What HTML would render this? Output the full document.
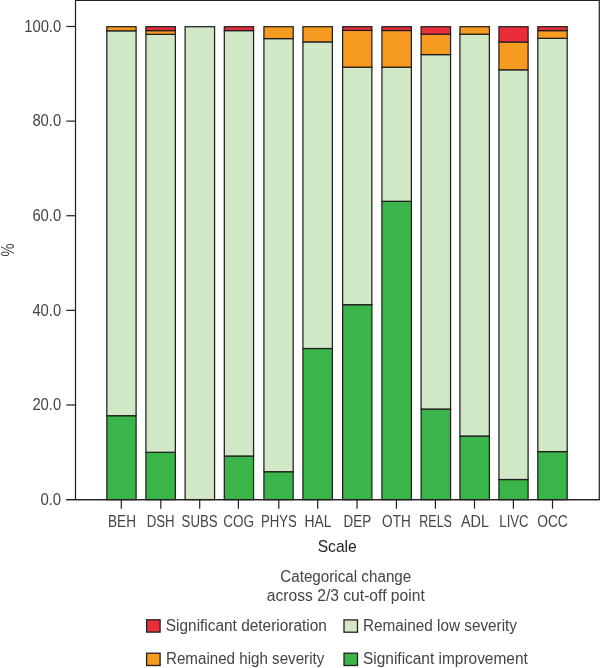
<!DOCTYPE html>
<html lang="en"><head><meta charset="utf-8"><title>Categorical change across 2/3 cut-off point</title>
<style>
html,body{margin:0;padding:0;background:#fff;}
body{width:600px;height:668px;overflow:hidden;font-family:"Liberation Sans",sans-serif;}
svg{display:block;will-change:transform;}
</style></head><body>
<svg width="600" height="668" viewBox="0 0 600 668" font-family="'Liberation Sans', sans-serif">
<rect width="600" height="668" fill="#fff"/>
<path d="M75.5 499.6 V0.5 H599.3 V499.6" fill="none" stroke="#231f20" stroke-width="1.2"/>
<path d="M66.3 499.6 H599.9" fill="none" stroke="#231f20" stroke-width="1.3"/>
<path d="M66.3 26.50 H75.5" stroke="#231f20" stroke-width="1.2"/>
<text x="61.2" y="31.80" font-size="15.6" text-anchor="end" fill="#444444" textLength="37.0" lengthAdjust="spacingAndGlyphs">100.0</text>
<path d="M66.3 121.12 H75.5" stroke="#231f20" stroke-width="1.2"/>
<text x="61.2" y="126.42" font-size="15.6" text-anchor="end" fill="#444444" textLength="28.8" lengthAdjust="spacingAndGlyphs">80.0</text>
<path d="M66.3 215.74 H75.5" stroke="#231f20" stroke-width="1.2"/>
<text x="61.2" y="221.04" font-size="15.6" text-anchor="end" fill="#444444" textLength="28.8" lengthAdjust="spacingAndGlyphs">60.0</text>
<path d="M66.3 310.36 H75.5" stroke="#231f20" stroke-width="1.2"/>
<text x="61.2" y="315.66" font-size="15.6" text-anchor="end" fill="#444444" textLength="28.8" lengthAdjust="spacingAndGlyphs">40.0</text>
<path d="M66.3 404.98 H75.5" stroke="#231f20" stroke-width="1.2"/>
<text x="61.2" y="410.28" font-size="15.6" text-anchor="end" fill="#444444" textLength="28.8" lengthAdjust="spacingAndGlyphs">20.0</text>
<text x="61.2" y="504.90" font-size="15.6" text-anchor="end" fill="#444444" textLength="20.8" lengthAdjust="spacingAndGlyphs">0.0</text>
<rect x="106.83" y="415.70" width="29.25" height="83.90" fill="#3ab54a" stroke="#231f20" stroke-width="1.25"/>
<rect x="106.83" y="30.80" width="29.25" height="384.90" fill="#d0e8c6" stroke="#231f20" stroke-width="1.25"/>
<rect x="106.83" y="26.70" width="29.25" height="4.10" fill="#f79b20" stroke="#231f20" stroke-width="1.25"/>
<path d="M121.30 499.6 V508.7" stroke="#231f20" stroke-width="1.2"/>
<text x="122.00" y="526.8" font-size="15.6" text-anchor="middle" fill="#444444" textLength="27.9" lengthAdjust="spacingAndGlyphs">BEH</text>
<rect x="145.93" y="452.30" width="29.45" height="47.30" fill="#3ab54a" stroke="#231f20" stroke-width="1.25"/>
<rect x="145.93" y="34.35" width="29.45" height="417.95" fill="#d0e8c6" stroke="#231f20" stroke-width="1.25"/>
<rect x="145.93" y="30.60" width="29.45" height="3.75" fill="#f79b20" stroke="#231f20" stroke-width="1.25"/>
<rect x="145.93" y="26.70" width="29.45" height="3.90" fill="#e92d3b" stroke="#231f20" stroke-width="1.25"/>
<path d="M160.80 499.6 V508.7" stroke="#231f20" stroke-width="1.2"/>
<text x="160.70" y="526.8" font-size="15.6" text-anchor="middle" fill="#444444" textLength="28.0" lengthAdjust="spacingAndGlyphs">DSH</text>
<rect x="185.12" y="26.70" width="29.45" height="472.90" fill="#d0e8c6" stroke="#231f20" stroke-width="1.25"/>
<path d="M199.70 499.6 V508.7" stroke="#231f20" stroke-width="1.2"/>
<text x="199.60" y="526.8" font-size="15.6" text-anchor="middle" fill="#444444" textLength="36.0" lengthAdjust="spacingAndGlyphs">SUBS</text>
<rect x="224.32" y="456.00" width="29.25" height="43.60" fill="#3ab54a" stroke="#231f20" stroke-width="1.25"/>
<rect x="224.32" y="30.60" width="29.25" height="425.40" fill="#d0e8c6" stroke="#231f20" stroke-width="1.25"/>
<rect x="224.32" y="26.70" width="29.25" height="3.90" fill="#e92d3b" stroke="#231f20" stroke-width="1.25"/>
<path d="M238.40 499.6 V508.7" stroke="#231f20" stroke-width="1.2"/>
<text x="238.60" y="526.8" font-size="15.6" text-anchor="middle" fill="#444444" textLength="30.8" lengthAdjust="spacingAndGlyphs">COG</text>
<rect x="263.93" y="471.70" width="29.25" height="27.90" fill="#3ab54a" stroke="#231f20" stroke-width="1.25"/>
<rect x="263.93" y="38.60" width="29.25" height="433.10" fill="#d0e8c6" stroke="#231f20" stroke-width="1.25"/>
<rect x="263.93" y="26.70" width="29.25" height="11.90" fill="#f79b20" stroke="#231f20" stroke-width="1.25"/>
<path d="M278.80 499.6 V508.7" stroke="#231f20" stroke-width="1.2"/>
<text x="278.90" y="526.8" font-size="15.6" text-anchor="middle" fill="#444444" textLength="35.8" lengthAdjust="spacingAndGlyphs">PHYS</text>
<rect x="302.93" y="348.50" width="29.45" height="151.10" fill="#3ab54a" stroke="#231f20" stroke-width="1.25"/>
<rect x="302.93" y="41.90" width="29.45" height="306.60" fill="#d0e8c6" stroke="#231f20" stroke-width="1.25"/>
<rect x="302.93" y="26.70" width="29.45" height="15.20" fill="#f79b20" stroke="#231f20" stroke-width="1.25"/>
<path d="M317.70 499.6 V508.7" stroke="#231f20" stroke-width="1.2"/>
<text x="317.90" y="526.8" font-size="15.6" text-anchor="middle" fill="#444444" textLength="27.0" lengthAdjust="spacingAndGlyphs">HAL</text>
<rect x="342.62" y="304.70" width="29.25" height="194.90" fill="#3ab54a" stroke="#231f20" stroke-width="1.25"/>
<rect x="342.62" y="67.20" width="29.25" height="237.50" fill="#d0e8c6" stroke="#231f20" stroke-width="1.25"/>
<rect x="342.62" y="30.40" width="29.25" height="36.80" fill="#f79b20" stroke="#231f20" stroke-width="1.25"/>
<rect x="342.62" y="26.70" width="29.25" height="3.70" fill="#e92d3b" stroke="#231f20" stroke-width="1.25"/>
<path d="M357.00 499.6 V508.7" stroke="#231f20" stroke-width="1.2"/>
<text x="357.40" y="526.8" font-size="15.6" text-anchor="middle" fill="#444444" textLength="27.6" lengthAdjust="spacingAndGlyphs">DEP</text>
<rect x="381.93" y="201.30" width="29.45" height="298.30" fill="#3ab54a" stroke="#231f20" stroke-width="1.25"/>
<rect x="381.93" y="67.20" width="29.45" height="134.10" fill="#d0e8c6" stroke="#231f20" stroke-width="1.25"/>
<rect x="381.93" y="30.50" width="29.45" height="36.70" fill="#f79b20" stroke="#231f20" stroke-width="1.25"/>
<rect x="381.93" y="26.70" width="29.45" height="3.80" fill="#e92d3b" stroke="#231f20" stroke-width="1.25"/>
<path d="M396.40 499.6 V508.7" stroke="#231f20" stroke-width="1.2"/>
<text x="396.40" y="526.8" font-size="15.6" text-anchor="middle" fill="#444444" textLength="28.6" lengthAdjust="spacingAndGlyphs">OTH</text>
<rect x="421.12" y="409.00" width="29.45" height="90.60" fill="#3ab54a" stroke="#231f20" stroke-width="1.25"/>
<rect x="421.12" y="54.60" width="29.45" height="354.40" fill="#d0e8c6" stroke="#231f20" stroke-width="1.25"/>
<rect x="421.12" y="34.20" width="29.45" height="20.40" fill="#f79b20" stroke="#231f20" stroke-width="1.25"/>
<rect x="421.12" y="26.70" width="29.45" height="7.50" fill="#e92d3b" stroke="#231f20" stroke-width="1.25"/>
<path d="M435.40 499.6 V508.7" stroke="#231f20" stroke-width="1.2"/>
<text x="435.60" y="526.8" font-size="15.6" text-anchor="middle" fill="#444444" textLength="32.6" lengthAdjust="spacingAndGlyphs">RELS</text>
<rect x="459.93" y="436.00" width="29.45" height="63.60" fill="#3ab54a" stroke="#231f20" stroke-width="1.25"/>
<rect x="459.93" y="34.20" width="29.45" height="401.80" fill="#d0e8c6" stroke="#231f20" stroke-width="1.25"/>
<rect x="459.93" y="26.70" width="29.45" height="7.50" fill="#f79b20" stroke="#231f20" stroke-width="1.25"/>
<path d="M474.50 499.6 V508.7" stroke="#231f20" stroke-width="1.2"/>
<text x="474.90" y="526.8" font-size="15.6" text-anchor="middle" fill="#444444" textLength="28.0" lengthAdjust="spacingAndGlyphs">ADL</text>
<rect x="498.93" y="479.50" width="29.15" height="20.10" fill="#3ab54a" stroke="#231f20" stroke-width="1.25"/>
<rect x="498.93" y="69.80" width="29.15" height="409.70" fill="#d0e8c6" stroke="#231f20" stroke-width="1.25"/>
<rect x="498.93" y="42.00" width="29.15" height="27.80" fill="#f79b20" stroke="#231f20" stroke-width="1.25"/>
<rect x="498.93" y="26.70" width="29.15" height="15.30" fill="#e92d3b" stroke="#231f20" stroke-width="1.25"/>
<path d="M513.40 499.6 V508.7" stroke="#231f20" stroke-width="1.2"/>
<text x="514.00" y="526.8" font-size="15.6" text-anchor="middle" fill="#444444" textLength="29.3" lengthAdjust="spacingAndGlyphs">LIVC</text>
<rect x="537.83" y="451.60" width="29.35" height="48.00" fill="#3ab54a" stroke="#231f20" stroke-width="1.25"/>
<rect x="537.83" y="38.30" width="29.35" height="413.30" fill="#d0e8c6" stroke="#231f20" stroke-width="1.25"/>
<rect x="537.83" y="30.60" width="29.35" height="7.70" fill="#f79b20" stroke="#231f20" stroke-width="1.25"/>
<rect x="537.83" y="26.70" width="29.35" height="3.90" fill="#e92d3b" stroke="#231f20" stroke-width="1.25"/>
<path d="M552.50 499.6 V508.7" stroke="#231f20" stroke-width="1.2"/>
<text x="552.50" y="526.8" font-size="15.6" text-anchor="middle" fill="#444444" textLength="30.7" lengthAdjust="spacingAndGlyphs">OCC</text>
<path d="M66.3 499.6 H599.9" fill="none" stroke="#231f20" stroke-width="1.3"/>
<text transform="translate(14.0 250) rotate(-90)" font-size="18" text-anchor="middle" fill="#444444" textLength="13" lengthAdjust="spacingAndGlyphs">%</text>
<text x="337.2" y="552" font-size="16.2" text-anchor="middle" fill="#222222" textLength="39" lengthAdjust="spacingAndGlyphs">Scale</text>
<text x="345.75" y="581.9" font-size="15.6" text-anchor="middle" fill="#444444" textLength="131" lengthAdjust="spacingAndGlyphs">Categorical change</text>
<text x="345.75" y="601.1" font-size="15.6" text-anchor="middle" fill="#444444" textLength="158" lengthAdjust="spacingAndGlyphs">across 2/3 cut-off point</text>
<rect x="146.60" y="619.80" width="13.5" height="12.3" fill="#e92d3b" stroke="#231f20" stroke-width="1.3"/>
<rect x="146.60" y="653.20" width="13.5" height="12.3" fill="#f79b20" stroke="#231f20" stroke-width="1.3"/>
<rect x="344.00" y="619.90" width="13.5" height="12.3" fill="#d0e8c6" stroke="#231f20" stroke-width="1.3"/>
<rect x="344.00" y="653.20" width="13.5" height="12.3" fill="#3ab54a" stroke="#231f20" stroke-width="1.3"/>
<text x="165.8" y="630.9" font-size="15.6" fill="#444444" textLength="161" lengthAdjust="spacingAndGlyphs">Significant deterioration</text>
<text x="166" y="664" font-size="15.6" fill="#444444" textLength="158.3" lengthAdjust="spacingAndGlyphs">Remained high severity</text>
<text x="363" y="630.9" font-size="15.6" fill="#444444" textLength="154" lengthAdjust="spacingAndGlyphs">Remained low severity</text>
<text x="363" y="664" font-size="15.6" fill="#444444" textLength="164.8" lengthAdjust="spacingAndGlyphs">Significant improvement</text>
</svg>
</body></html>
